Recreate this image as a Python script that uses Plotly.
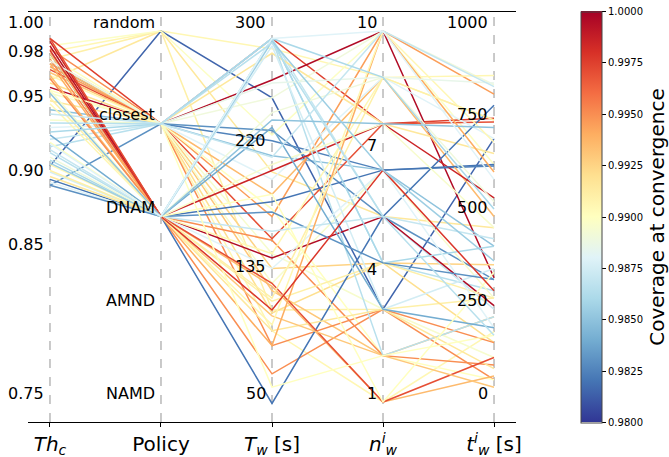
import plotly.graph_objects as go
import plotly.colors as pc

# ---------------- data ----------------
dim_labels = ["<i>Th</i><sub><i>c</i></sub>", "Policy",
              "<i>T</i><sub><i>w</i></sub> [s]",
              "<i>n</i><sup><i>i</i></sup><sub><i>w</i></sub>",
              "<i>t</i><sup><i>i</i></sup><sub><i>w</i></sub> [s]"]
policy_categories = ["NAMD", "AMND", "DNAM", "closest", "random"]

thc_ticks = [0.75, 0.85, 0.90, 0.95, 0.98, 1.00]
tw_ticks = [50, 135, 220, 300]
nw_ticks = [1, 4, 7, 10]
tiw_ticks = [0, 250, 500, 750, 1000]

thc = [0.986, 0.981, 0.967, 0.909, 0.990,
       0.995, 0.962, 0.975, 0.978, 0.947, 0.978, 0.976, 0.974, 0.980, 0.972,
       0.970, 0.988, 0.927, 0.922, 0.935, 0.896, 0.958, 0.965, 0.983, 0.940,
       0.953,
       0.993, 0.990, 0.985, 0.981, 0.970, 0.968, 0.900, 0.913, 0.918, 0.905,
       0.910, 0.906, 0.902, 0.898, 0.896, 0.920, 0.995, 0.985, 0.978, 0.955,
       0.951, 0.960, 0.930, 0.915, 0.925, 0.960, 0.980, 0.987, 0.944, 0.958,
       0.932, 0.911, 0.924, 0.938]
policy = ["random"] * 5 + ["closest"] * 21 + ["DNAM"] * 25 + \
         ["closest", "closest", "DNAM", "closest", "DNAM",
          "closest", "DNAM", "DNAM", "closest"]
tw = [288, 112, 205, 255, 230,
      295, 267, 255, 226, 216, 190, 175, 160, 140, 125,
      98, 88, 295, 295, 200, 233, 150, 110, 180, 130,
      285,
      206, 147, 185, 159, 128, 69, 49, 295, 295, 290,
      150, 118, 98, 140, 178, 165, 130, 108, 88, 120,
      102, 210, 235, 245, 190, 60, 265, 112, 215, 240,
      295, 293, 295, 292]
nw = [8.875, 3.25, 5.5, 3.25, 10,
      7.75, 10, 10, 6.625, 6.625, 8.875, 10, 7.75, 4.375, 2.125,
      1, 3.25, 5.5, 4.375, 8.875, 5.5, 3.25, 4.375, 2.125, 6.625,
      7.75,
      7.75, 5.5, 6.625, 2.125, 1, 3.25, 5.5, 4.375, 2.125, 3.25,
      8.875, 4.375, 3.25, 6.625, 4.375, 5.5, 1, 2.125, 10, 8.875,
      10, 7.75, 3.25, 8.875, 1, 2.125, 8.875, 6.625, 10, 7.75,
      8.875, 6.625, 10, 5.5]
tiw = [760, 280, 470, 710, 640,
       765, 335, 855, 636, 420, 500, 830, 755, 370, 230,
       190, 60, 250, 300, 710, 330, 120, 160, 60, 280,
       670,
       550, 260, 640, 100, 70, 160, 800, 420, 230, 360,
       880, 280, 90, 200, 330, 440, 120, 40, 620, 760,
       700, 470, 200, 540, 350, 180, 860, 300, 850, 740,
       520, 380, 600, 180]
coverage = [0.9905, 0.9910, 0.9915, 0.9815, 0.9898,
            0.9975, 0.9995, 0.9890, 0.9825, 0.9850, 0.9935, 0.9945, 0.9970, 0.9925, 0.9930,
            0.9905, 0.9950, 0.9870, 0.9865, 0.9880, 0.9830, 0.9895, 0.9920, 0.9900, 0.9895,
            0.9915,
            0.9985, 0.9995, 0.9820, 0.9950, 0.9935, 0.9950, 0.9820, 0.9860, 0.9865, 0.9875,
            0.9905, 0.9910, 0.9915, 0.9880, 0.9830, 0.9870, 0.9970, 0.9930, 0.9940, 0.9910,
            0.9905, 0.9895, 0.9840, 0.9890, 0.9900, 0.9900, 0.9885, 0.9978, 0.9870, 0.9850,
            0.9860, 0.9855, 0.9880, 0.9865]

cov_min, cov_max = 0.98, 1.0
cb_ticks = [0.98, 0.9825, 0.985, 0.9875, 0.99, 0.9925, 0.995, 0.9975, 1.0]

# axis ranges used for normalisation (bottom, top)
ranges = [(0.75, 1.00), (0, 4), (50, 300), (1, 10), (0, 1000)]

# ---------------- figure ----------------
colorscale = pc.make_colorscale(pc.diverging.RdYlBu[::-1])


def norm(d, v):
    lo, hi = ranges[d]
    return (v - lo) / (hi - lo)


fig = go.Figure()
n = len(thc)
for k in range(n):
    vals = [thc[k], policy_categories.index(policy[k]), tw[k], nw[k], tiw[k]]
    ys = [norm(d, v) for d, v in enumerate(vals)]
    frac = (coverage[k] - cov_min) / (cov_max - cov_min)
    col = pc.sample_colorscale(colorscale, [min(max(frac, 0), 1)])[0]
    fig.add_trace(go.Scatter(x=list(range(5)), y=ys, mode="lines",
                             line=dict(color=col, width=1.5),
                             hoverinfo="skip", showlegend=False))

# colorbar carrier
fig.add_trace(go.Scatter(
    x=[0, 0], y=[0.5, 0.5], mode="markers", hoverinfo="skip", showlegend=False,
    marker=dict(size=0.1, color=[cov_min, cov_max], cmin=cov_min, cmax=cov_max,
                colorscale=colorscale, showscale=True,
                colorbar=dict(x=1.1332, xanchor="left", xpad=0, ypad=0,
                              y=0.5, yanchor="middle",
                              len=411, lenmode="pixels", thickness=21,
                              outlinewidth=1, outlinecolor="#444",
                              tickvals=cb_ticks, tickformat=".4f",
                              ticks="outside", ticklen=4, tickcolor="black",
                              tickfont=dict(size=10, color="black"),
                              title=dict(text="Coverage at convergence", side="right",
                                         font=dict(size=20, color="black"))))))

# dashed vertical axes
for i in range(5):
    fig.add_shape(type="line", xref="x", yref="paper", x0=i, x1=i, y0=0, y1=1,
                  line=dict(color="#b8b8b8", width=1.5, dash="dash"), layer="below")

# tick labels of each vertical axis
tick_sets = [
    [(v, f"{v:.2f}") for v in thc_ticks],
    [(i, c) for i, c in enumerate(policy_categories)],
    [(v, str(v)) for v in tw_ticks],
    [(v, str(v)) for v in nw_ticks],
    [(v, str(v)) for v in tiw_ticks],
]
for d, ts in enumerate(tick_sets):
    for v, txt in ts:
        fig.add_annotation(x=d, y=norm(d, v), text=txt, showarrow=False,
                           xanchor="right", yanchor="middle", xshift=-4, yshift=9,
                           font=dict(size=16, color="black"))

fig.update_layout(
    width=669, height=457,
    margin=dict(l=28, r=153, t=12, b=35, autoexpand=False),
    paper_bgcolor="white", plot_bgcolor="white",
    font=dict(family="DejaVu Sans", color="black"),
    xaxis=dict(range=[-0.198, 4.198], tickvals=list(range(5)), ticktext=dim_labels,
               tickfont=dict(size=20), ticks="outside", ticklen=4, tickcolor="black",
               showline=True, linecolor="black", linewidth=1, mirror=True,
               showgrid=False, zeroline=False, automargin=False),
    yaxis=dict(range=[-0.0539, 1.0512], visible=False),
)

fig.write_html("out.html")
